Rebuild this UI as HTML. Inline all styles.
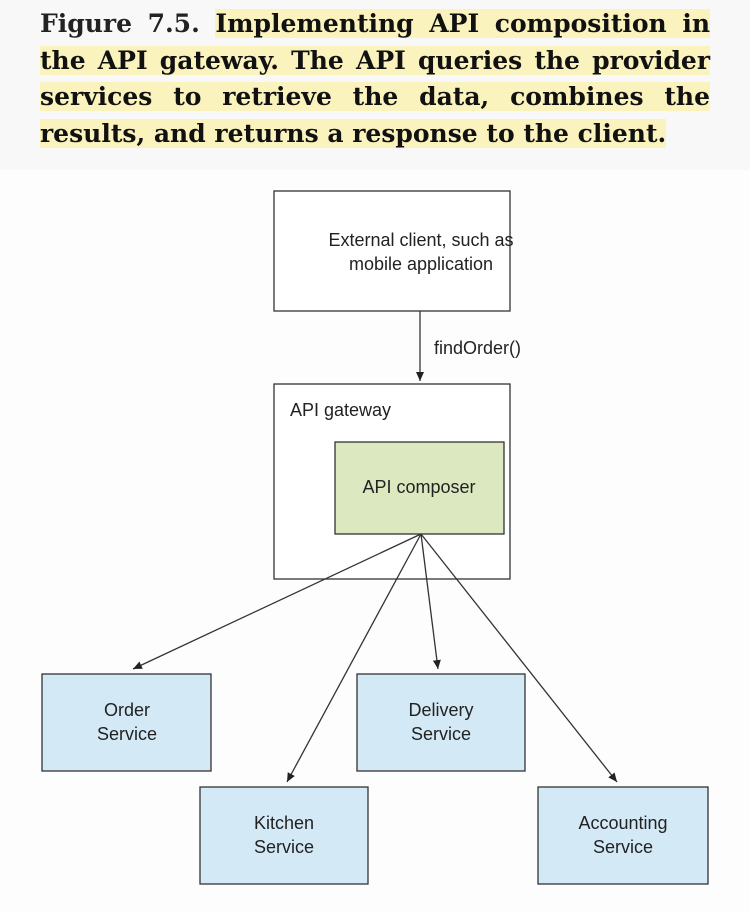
<!DOCTYPE html>
<html><head><meta charset="utf-8"><style>
html,body{margin:0;padding:0}
body{width:750px;height:911px;background:#f8f8f8;position:relative;overflow:hidden;font-family:"Liberation Sans",sans-serif}
.cap{position:absolute;left:40px;top:6px;width:670px;font-family:"DejaVu Serif",serif;font-weight:bold;font-size:25px;color:#222}
.ln{height:36.5px;line-height:36px;text-align:justify;text-align-last:justify;white-space:nowrap}
.ln.last{text-align-last:left}
.hl{background:#fbf3bd;color:#111}
.dg{position:absolute;left:0;top:170px;width:750px;height:741px;background:#fdfdfd}
</style></head><body>
<div class="cap">
<div class="ln">Figure 7.5. <span class="hl">Implementing API composition in</span></div>
<div class="ln"><span class="hl">the API gateway. The API queries the provider</span></div>
<div class="ln"><span class="hl">services to retrieve the data, combines the</span></div>
<div class="ln last"><span class="hl">results, and returns a response to the client.</span></div>
</div>
<div class="dg"></div>
<svg width="750" height="911" style="position:absolute;left:0;top:0" font-family="Liberation Sans, sans-serif" font-size="18" fill="#222">
<defs><marker id="a" markerWidth="10" markerHeight="10" refX="9" refY="5" orient="auto" markerUnits="userSpaceOnUse"><path d="M0,1 L9,5 L0,9z" fill="#222"/></marker></defs>
<g stroke="#333" stroke-width="1.3">
<rect x="274" y="191" width="236" height="120" fill="#fff"/>
<rect x="274" y="384" width="236" height="195" fill="#fff"/>
<rect x="335" y="442" width="169" height="92" fill="#dce8c0"/>
<rect x="42" y="674" width="169" height="97" fill="#d3e9f6"/>
<rect x="357" y="674" width="168" height="97" fill="#d3e9f6"/>
<rect x="200" y="787" width="168" height="97" fill="#d3e9f6"/>
<rect x="538" y="787" width="170" height="97" fill="#d3e9f6"/>
<line x1="420" y1="311" x2="420" y2="381" marker-end="url(#a)"/>
<line x1="421" y1="534" x2="133" y2="669" marker-end="url(#a)"/>
<line x1="421" y1="534" x2="287" y2="782" marker-end="url(#a)"/>
<line x1="421" y1="534" x2="438" y2="669" marker-end="url(#a)"/>
<line x1="421" y1="534" x2="617" y2="782" marker-end="url(#a)"/>
</g>
<g text-anchor="middle">
<text x="421" y="246">External client, such as</text>
<text x="421" y="270">mobile application</text>
<text x="419" y="493">API composer</text>
<text x="127" y="716">Order</text><text x="127" y="740">Service</text>
<text x="441" y="716">Delivery</text><text x="441" y="740">Service</text>
<text x="284" y="829">Kitchen</text><text x="284" y="853">Service</text>
<text x="623" y="829">Accounting</text><text x="623" y="853">Service</text>
</g>
<text x="434" y="354">findOrder()</text>
<text x="290" y="416">API gateway</text>
</svg>
</body></html>
